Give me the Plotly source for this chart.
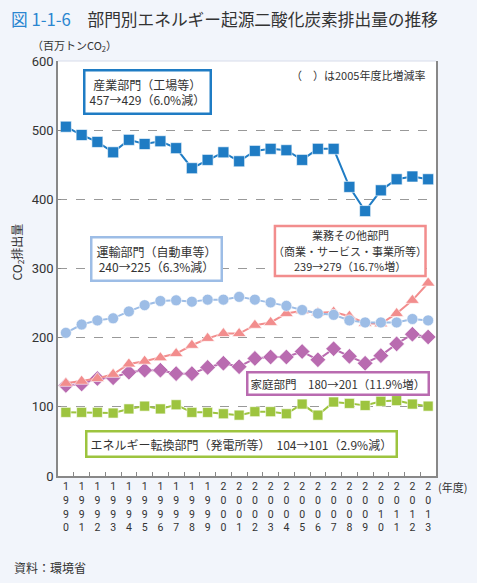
import plotly.graph_objects as go

years = [str(y) for y in range(1990, 2014)]
tick_labels = ["<br>".join(list(y)) for y in years]

industry = [505, 493, 483, 468, 486, 480, 484, 474, 445, 457, 468, 455, 470, 473, 471, 457,
            473, 473, 418, 383, 413, 429, 433, 429]
transport = [207, 219, 225, 228, 238, 247, 253, 254, 252, 255, 255, 259, 255, 251, 246, 240,
             235, 233, 225, 222, 222, 222, 227, 225]
commercial = [134, 137, 141, 147, 162, 166, 171, 177, 189, 199, 206, 206, 218, 222, 235, 239,
              236, 237, 231, 221, 220, 235, 254, 279]
household = [131, 133, 141, 142, 150, 153, 153, 148, 148, 157, 163, 158, 170, 172, 172, 180,
             168, 184, 173, 163, 174, 191, 205, 201]
energy = [92, 92, 92, 91, 97, 101, 97, 103, 92, 92, 90, 88, 93, 93, 90, 104,
          88, 107, 105, 102, 108, 109, 104, 101]

C_IND = "#1f7cc4"
C_TRA = "#9dbde6"
C_COM = "#f28d8d"
C_HOU = "#b96bb0"
C_ENE = "#9dc43f"

FONT = "Noto Sans CJK JP"
NUMFONT = "Roboto"
TXT = "#333333"

fig = go.Figure()

def add(vals, color, symbol, size, name):
    fig.add_trace(go.Scatter(
        x=years, y=vals, mode="lines+markers", name=name,
        line=dict(color=color, width=2),
        marker=dict(symbol=symbol, size=size, color=color,
                    line=dict(color="rgba(255,255,255,0.6)", width=1)),
        showlegend=False, cliponaxis=False))

add(energy, C_ENE, "square", 10, "エネルギー転換部門")
add(household, C_HOU, "diamond", 12, "家庭部門")
add(commercial, C_COM, "triangle-up", 12, "業務その他部門")
add(transport, C_TRA, "circle", 11, "運輸部門")
add(industry, C_IND, "square", 11, "産業部門")

# paper coords: plot x 57.5..436.5 (379), y 60.7..476.5 (415.8)
def fx(x):
    return (x - 57.5) / 379.0
def fy(y):
    return (476.5 - y) / 415.8

def box(x, y, text, color, size=12, pad=3):
    fig.add_annotation(x=fx(x), y=fy(y), xref="paper", yref="paper", text=text, showarrow=False,
                       font=dict(family=FONT, size=size, color=TXT),
                       bgcolor="white", bordercolor=color, borderwidth=2.5, borderpad=pad,
                       align="center", xanchor="center", yanchor="middle")

box(147.5, 92, "産業部門（工場等）<br>457→429（6.0%減）", C_IND, pad=4)
box(156.5, 259, "運輸部門（自動車等）<br>240→225（6.3%減）", C_TRA, pad=4)
box(338.5, 384, "家庭部門　180→201（11.9%増）", C_HOU, size=11.5, pad=2)
box(241.5, 444.5, "エネルギー転換部門（発電所等）　104→101（2.9%減）", C_ENE)

# commercial box: border rectangle + three text lines
fig.add_shape(type="rect", xref="paper", yref="paper",
              x0=fx(275), x1=fx(426), y0=fy(276), y1=fy(226),
              fillcolor="white", line=dict(color=C_COM, width=2.5), layer="above")
com_lines = ["業務その他部門", "（商業・サービス・事業所等）", "239→279（16.7%増）"]
for txt, yy in zip(com_lines, [235.5, 251, 266.5]):
    fig.add_annotation(x=fx(350.5), y=fy(yy), xref="paper", yref="paper", text=txt,
                       showarrow=False, xanchor="center", yanchor="middle",
                       font=dict(family=FONT, size=11, color=TXT))

fig.add_annotation(x=fx(427), y=fy(75), xref="paper", yref="paper",
                   text="（　）は2005年度比増減率", showarrow=False,
                   font=dict(family=FONT, size=11, color=TXT),
                   xanchor="right", yanchor="middle")

fig.add_annotation(x=fx(8), y=fy(19), xref="paper", yref="paper",
                   text="<span style='color:#2a86d0'>図 1-1-6</span>　部門別エネルギー起源二酸化炭素排出量の推移",
                   showarrow=False, xanchor="left", yanchor="middle",
                   font=dict(family=FONT, size=16.7, color=TXT))
fig.add_annotation(x=fx(29), y=fy(45), xref="paper", yref="paper",
                   text="（百万トンCO<sub>2</sub>）", showarrow=False, xanchor="left", yanchor="middle",
                   font=dict(family=FONT, size=11, color=TXT))
fig.add_annotation(x=fx(436), y=fy(488), xref="paper", yref="paper",
                   text="(年度)", showarrow=False, xanchor="left", yanchor="middle",
                   font=dict(family=FONT, size=11, color=TXT))
fig.add_annotation(x=fx(11), y=fy(568), xref="paper", yref="paper",
                   text="資料：環境省", showarrow=False, xanchor="left", yanchor="middle",
                   font=dict(family=FONT, size=12, color=TXT))
fig.add_annotation(x=fx(17), y=fy(252), xref="paper", yref="paper",
                   text="CO<sub>2</sub>排出量", showarrow=False, textangle=-90,
                   xanchor="center", yanchor="middle",
                   font=dict(family=FONT, size=12, color=TXT))

fig.add_shape(type="line", xref="paper", yref="paper", x0=0, x1=1, y0=1, y1=1,
              line=dict(color="#d8dcea", width=1))

fig.update_layout(
    width=477, height=583,
    margin=dict(l=57.5, r=40.5, t=60.7, b=106.5),
    paper_bgcolor="#f2f5fb", plot_bgcolor="white",
    font=dict(family=FONT, size=12, color=TXT),
)
fig.update_xaxes(type="category", tickvals=years, ticktext=tick_labels,
                 tickson="boundaries", ticks="inside", ticklen=4, tickcolor="#888888",
                 showline=True, linecolor="#888888", linewidth=1.5, showgrid=False,
                 tickangle=0, tickfont=dict(family=NUMFONT, size=10.5, color=TXT),
                 range=[-0.5, 23.5])
fig.update_yaxes(range=[0, 600], dtick=100, showgrid=True, gridcolor="#999999",
                 griddash="dash", gridwidth=1, zeroline=False,
                 showline=True, linecolor="#888888", linewidth=1.5, mirror=True,
                 ticks="inside", ticklen=3, tickcolor="#888888",
                 tickfont=dict(family=NUMFONT, size=13, color=TXT))

fig.write_html("out.html", config={"displayModeBar": False},
               post_script="document.body.style.margin='0';document.body.style.background='#f2f5fb';")
